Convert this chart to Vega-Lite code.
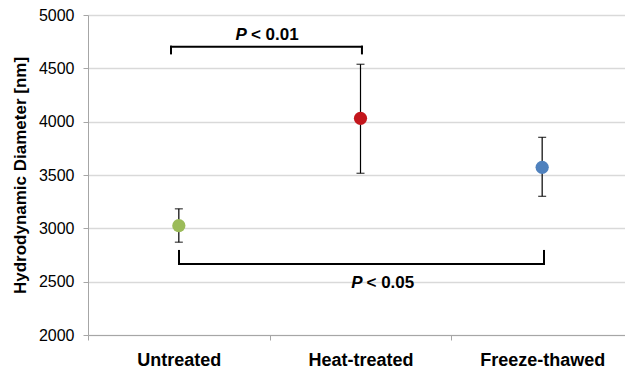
{
  "$schema": "https://vega.github.io/schema/vega-lite/v6.json",
  "width": 537,
  "height": 320,
  "autosize": {"type": "none"},
  "padding": {"left": 88, "top": 15, "right": 0, "bottom": 33},
  "config": {
    "view": {"stroke": null},
    "font": "Liberation Sans"
  },
  "datasets": {
    "pts": [
      {"group": "Untreated", "mean": 3025, "lo": 2870, "hi": 3183},
      {"group": "Heat-treated", "mean": 4031, "lo": 3516, "hi": 4538},
      {"group": "Freeze-thawed", "mean": 3572, "lo": 3300, "hi": 3853}
    ],
    "brackets": [
      {"x": 0.457, "x2": 1.508, "y": 4703, "y2": 4703},
      {"x": 0.457, "x2": 0.457, "y": 4703, "y2": 4640},
      {"x": 1.508, "x2": 1.508, "y": 4703, "y2": 4640},
      {"x": 0.501, "x2": 2.51, "y": 2666, "y2": 2666},
      {"x": 0.501, "x2": 0.501, "y": 2666, "y2": 2788},
      {"x": 2.51, "x2": 2.51, "y": 2666, "y2": 2788}
    ],
    "labels": [
      {"x": 0.886, "y": 4812, "p": "P", "rest": "< 0.01"},
      {"x": 1.522, "y": 2486, "p": "P", "rest": "< 0.05"}
    ]
  },
  "resolve": {"scale": {"x": "independent"}},
  "layer": [
    {
      "data": {"name": "pts"},
      "layer": [
        {
          "mark": {"type": "rule", "color": "#000000", "strokeWidth": 1.2},
          "encoding": {
            "x": {
              "field": "group", "type": "nominal", "sort": null,
              "scale": {"paddingInner": 0, "paddingOuter": 0, "range": [0, 545]},
              "axis": {
                "title": null, "labelAngle": 0, "labelFont": "Liberation Sans",
                "labelFontSize": 18, "labelFontWeight": "bold", "labelColor": "#000000",
                "tickBand": "extent", "tickSize": 5, "tickColor": "#a6a6a6",
                "domainColor": "#a6a6a6", "labelPadding": 11, "grid": false
              }
            },
            "y": {
              "field": "lo", "type": "quantitative",
              "scale": {"domain": [2000, 5000], "nice": false, "zero": false},
              "axis": {
                "title": "Hydrodynamic Diameter [nm]", "values": [2000, 2500, 3000, 3500, 4000, 4500, 5000],
                "format": "d",
                "titleFont": "Liberation Sans", "titleFontSize": 17, "titleFontWeight": "bold", "titleColor": "#000000",
                "titlePadding": 9,
                "labelFont": "Liberation Sans", "labelFontSize": 16, "labelColor": "#000000",
                "labelPadding": 9, "tickSize": 5, "tickColor": "#a6a6a6", "domainColor": "#a6a6a6",
                "gridColor": "#d9d9d9", "gridWidth": 1.3
              }
            },
            "y2": {"field": "hi"}
          }
        },
        {
          "mark": {"type": "tick", "color": "#000000", "size": 8, "thickness": 1.3},
          "encoding": {
            "x": {"field": "group", "type": "nominal", "sort": null},
            "y": {"field": "lo", "type": "quantitative"}
          }
        },
        {
          "mark": {"type": "tick", "color": "#000000", "size": 8, "thickness": 1.3},
          "encoding": {
            "x": {"field": "group", "type": "nominal", "sort": null},
            "y": {"field": "hi", "type": "quantitative"}
          }
        },
        {
          "mark": {"type": "point", "filled": true, "opacity": 1, "size": 175, "shape": "circle"},
          "encoding": {
            "x": {"field": "group", "type": "nominal", "sort": null},
            "y": {"field": "mean", "type": "quantitative"},
            "color": {
              "field": "group", "type": "nominal", "legend": null,
              "scale": {"domain": ["Untreated", "Heat-treated", "Freeze-thawed"], "range": ["#9bbb59", "#c3161c", "#4f81bd"]}
            }
          }
        }
      ]
    },
    {
      "data": {"name": "brackets"},
      "mark": {"type": "rule", "color": "#000000", "strokeWidth": 2, "strokeCap": "square"},
      "encoding": {
        "x": {"field": "x", "type": "quantitative", "scale": {"domain": [0, 3], "nice": false, "zero": false, "range": [0, 545]}, "axis": null},
        "x2": {"field": "x2"},
        "y": {"field": "y", "type": "quantitative"},
        "y2": {"field": "y2"}
      }
    },
    {
      "data": {"name": "labels"},
      "layer": [
        {
          "mark": {"type": "text", "align": "right", "baseline": "middle", "dx": -2, "font": "Liberation Sans", "fontSize": 17, "fontWeight": "bold", "fontStyle": "italic", "color": "#000000"},
          "encoding": {
            "x": {"field": "x", "type": "quantitative", "scale": {"domain": [0, 3], "nice": false, "zero": false, "range": [0, 545]}, "axis": null},
            "y": {"field": "y", "type": "quantitative"},
            "text": {"field": "p"}
          }
        },
        {
          "mark": {"type": "text", "align": "left", "baseline": "middle", "dx": 2, "font": "Liberation Sans", "fontSize": 17, "fontWeight": "bold", "color": "#000000"},
          "encoding": {
            "x": {"field": "x", "type": "quantitative"},
            "y": {"field": "y", "type": "quantitative"},
            "text": {"field": "rest"}
          }
        }
      ]
    }
  ]
}
